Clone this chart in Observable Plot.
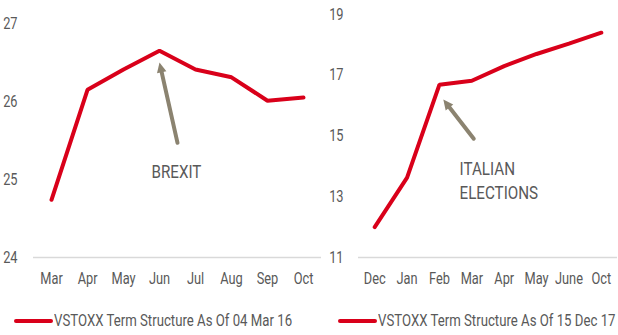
<!DOCTYPE html>
<html>
<head>
<meta charset="utf-8">
<script src="https://cdn.jsdelivr.net/npm/d3@7"></script>
<script src="https://cdn.jsdelivr.net/npm/@observablehq/plot@0.6"></script>
<style>
  html, body { margin: 0; padding: 0; background: #fff; }
  #wrap { position: relative; width: 618px; height: 335px; overflow: hidden; font-family: Roboto, sans-serif; }
  .panel { position: absolute; top: 0; }
  .legend { position: absolute; display: flex; align-items: center; color: #595959; font-size: 16.5px; white-space: nowrap; }
  .legend .sw { display: inline-block; width: 39px; height: 4px; background: #d9001a; border-radius: 2px; margin-right: 1px; flex: none; }
  .legend .lt { display: inline-block; transform: scaleX(0.8); transform-origin: left center; }
</style>
</head>
<body>
<div id="wrap">
  <div id="left" class="panel" style="left:0"></div>
  <div id="right" class="panel" style="left:310px"></div>
  <div class="legend" style="left:14px; top:311px"><span class="sw"></span><span class="lt" id="legL"></span></div>
  <div class="legend" style="left:338px; top:311px"><span class="sw"></span><span class="lt" id="legR"></span></div>
</div>
<script>
// ---- data ----
const monthsLeft = ["Mar", "Apr", "May", "Jun", "Jul", "Aug", "Sep", "Oct"];
const valuesLeft = [24.74, 26.15, 26.41, 26.65, 26.41, 26.31, 26.01, 26.05];
const yTicksLeft = [24, 25, 26, 27];
const legendLeft = "VSTOXX Term Structure As Of 04 Mar 16";

const monthsRight = ["Dec", "Jan", "Feb", "Mar", "Apr", "May", "June", "Oct"];
const valuesRight = [12.0, 13.63, 16.69, 16.82, 17.3, 17.7, 18.04, 18.4];
const yTicksRight = [11, 13, 15, 17, 19];
const legendRight = "VSTOXX Term Structure As Of 15 Dec 17";

// annotations (data units: x = month index, y = value)
const annotLeft = {label: "BREXIT", textX: 3.47, textY: 25.12, x1: 3.5, y1: 25.47, x2: 3.0, y2: 26.5};
const annotRight = {label: "ITALIAN\nELECTIONS", textX: 2.62, textY: 13.58, x1: 3.06, y1: 14.91, x2: 2.12, y2: 16.2};

const RED = "#d9001a";
const ARROW = "#8b8370";
const TXT = "#595959";
const H = 297, MB = 40, MR = 1;

function panel({months, values, yTicks, annot, width, marginLeft, marginTop, yPad, textAnchor}) {
  const data = months.map((m, i) => ({i, v: values[i]}));
  const xDomain = [-0.5, months.length - 0.5];
  const yDomain = [yTicks[0], yTicks[yTicks.length - 1]];
  // pixel direction of the annotation arrow, for orienting its filled head
  const px = d3.scaleLinear(xDomain, [marginLeft, width - MR]);
  const py = d3.scaleLinear(yDomain, [H - MB, marginTop]);
  const dx = px(annot.x2) - px(annot.x1), dy = py(annot.y2) - py(annot.y1);
  const head = [{...annot, angle: Math.atan2(dx, -dy) * 180 / Math.PI}];
  return Plot.plot({
    width, height: H,
    marginLeft, marginRight: MR, marginTop, marginBottom: MB,
    style: {fontFamily: "Roboto, sans-serif", fontSize: "16px", color: TXT, background: "transparent", overflow: "visible"},
    x: {type: "linear", domain: xDomain, ticks: months.map((m, i) => i),
        tickFormat: i => months[i], tickSize: 0, tickPadding: 15, label: null},
    y: {domain: yDomain, ticks: yTicks, tickFormat: d => String(d),
        tickSize: 0, tickPadding: yPad, label: null},
    marks: [
      Plot.ruleY([yTicks[0]], {stroke: "#d9d9d9", strokeWidth: 1.5}),
      Plot.line(data, {x: "i", y: "v", stroke: RED, strokeWidth: 4, strokeLinejoin: "miter", strokeLinecap: "round"}),
      Plot.arrow([annot], {x1: "x1", y1: "y1", x2: "x2", y2: "y2", stroke: ARROW, strokeWidth: 4, headLength: 0, insetEnd: 7}),
      Plot.vector(head, {x: "x2", y: "y2", rotate: "angle", length: 10, r: 4.8, shape: "spike", anchor: "end", fill: ARROW, stroke: "none"}),
      Plot.text([annot], {x: "textX", y: "textY", text: "label", fill: TXT, fontSize: 19, textAnchor, lineHeight: 1.3, lineAnchor: "middle"})
    ]
  });
}

// narrow the text horizontally, around its anchor, to match the condensed face
function condense(svg, s) {
  svg.querySelectorAll("text").forEach(t => {
    let a = "start", n = t;
    while (n && n !== svg.parentNode) {
      const v = n.getAttribute && n.getAttribute("text-anchor");
      if (v) { a = v; break; }
      n = n.parentNode;
    }
    const b = t.getBBox();
    const ox = a === "middle" ? b.x + b.width / 2 : a === "end" ? b.x + b.width : b.x;
    const prev = t.getAttribute("transform") || "";
    t.setAttribute("transform", `${prev} translate(${ox},0) scale(${s},1) translate(${-ox},0)`);
  });
}

const L = panel({
  months: monthsLeft, values: valuesLeft, yTicks: yTicksLeft, annot: annotLeft,
  width: 322, marginLeft: 33, marginTop: 23, yPad: 16, textAnchor: "middle"
});
const R = panel({
  months: monthsRight, values: valuesRight, yTicks: yTicksRight, annot: annotRight,
  width: 308, marginLeft: 48, marginTop: 14, yPad: 15, textAnchor: "start"
});
document.getElementById("left").append(L);
document.getElementById("right").append(R);
condense(L, 0.8);
condense(R, 0.8);
document.getElementById("legL").textContent = legendLeft;
document.getElementById("legR").textContent = legendRight;
</script>
</body>
</html>
